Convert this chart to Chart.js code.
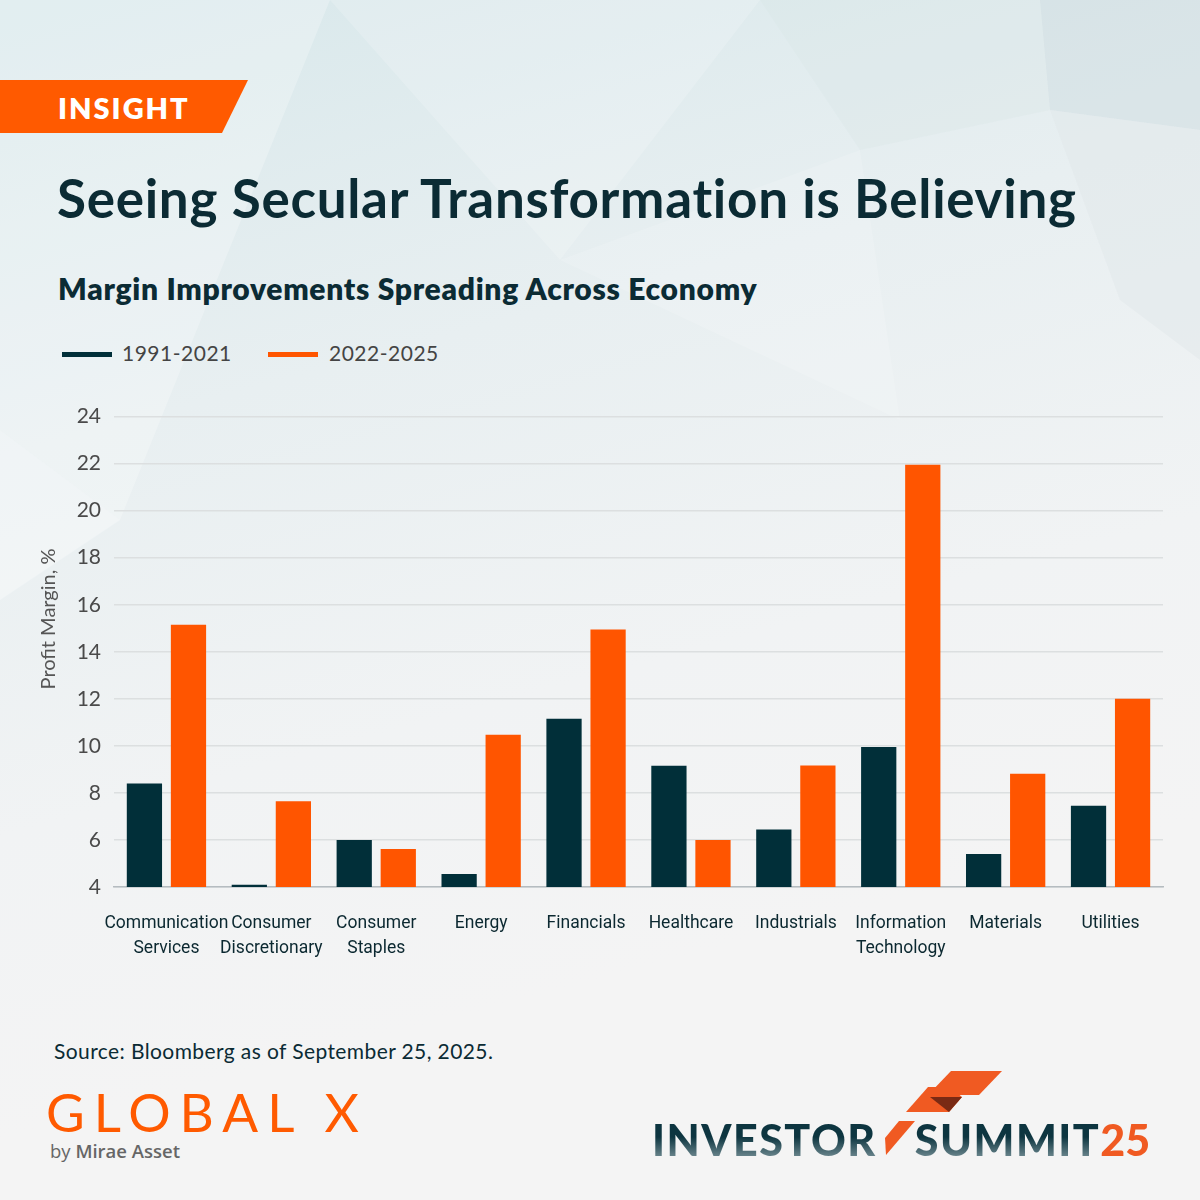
<!DOCTYPE html>
<html>
<head>
<meta charset="utf-8">
<script src="https://cdn.jsdelivr.net/npm/chart.js@4.4.1/dist/chart.umd.min.js"></script>
<style>
  body {
    margin: 0;
    width: 1200px;
    height: 1200px;
    position: relative;
    overflow: hidden;
    background: linear-gradient(165deg, #d8e8eb 0%, #e8eff1 30%, #f1f3f4 55%, #f4f4f4 75%, #f4f4f4 100%);
    font-family: "Lato", "Noto Sans", sans-serif;
  }
  #bg { position: absolute; left: 0; top: 0; }
  .banner {
    position: absolute; left: 0; top: 80px; width: 248px; height: 53px;
    background: #ff5a00;
    clip-path: polygon(0 0, 100% 0, calc(100% - 26px) 100%, 0 100%);
    color: #fff; font-weight: 800; font-size: 29px; letter-spacing: 2px;
    line-height: 55px; padding-left: 58px; box-sizing: border-box;
  }
  .title {
    position: absolute; left: 57px; top: 166px;
    font-size: 53px; font-weight: 700; color: #0b2b34; white-space: nowrap; letter-spacing: 0.7px;
  }
  .subtitle {
    position: absolute; left: 58px; top: 270px;
    font-size: 30px; font-weight: 800; color: #0b2b34; white-space: nowrap; letter-spacing: 0.7px;
  }
  .legend { position: absolute; top: 340px; left: 62px; font-size: 21px; color: #444; }
  .legend span.sw { position: absolute; width: 50px; height: 5px; top: 12px; }
  .legend span.tx { position: absolute; top: 0; white-space: nowrap; letter-spacing: 0.5px; }
  #wrap { position: absolute; left: 20px; top: 391px; width: 1160px; height: 580px; }
  .ytitle {
    position: absolute; left: 47px; top: 619px; transform: translate(-50%, -50%) rotate(-90deg);
    font-size: 20px; color: #555; white-space: nowrap;
  }
  .source {
    position: absolute; left: 54px; top: 1038px; font-size: 21px; color: #0b2b34; letter-spacing: 0.4px;
  }
  .gx {
    position: absolute; left: 46px; top: 1080px; font-size: 53px; font-weight: 400;
    color: #ff5a00; letter-spacing: 9px; white-space: nowrap;
  }
  .by { position: absolute; left: 50px; top: 1138px; font-size: 18.5px; color: #666; font-family: "Open Sans", sans-serif; }
  .by b { font-weight: 600; }
  .summit {
    position: absolute; left: 652px; top: 1114px; font-size: 43px; font-weight: 900;
    letter-spacing: 1.5px; white-space: nowrap; font-family: "Lato", sans-serif;
  }
  .summit .dk {
    background: linear-gradient(180deg, #0d3540 0%, #0d3540 45%, #8fa5ab 100%);
    -webkit-background-clip: text; background-clip: text; color: transparent;
  }
  .summit .or { color: #f05a22; letter-spacing: 0; }
  #logo { position: absolute; left: 0; top: 0; }
</style>
</head>
<body>
<svg id="bg" width="1200" height="1200">
  <polygon points="0,0 330,0 120,520 0,430" fill="#ffffff" opacity="0.25"/>
  <polygon points="330,0 760,0 560,260" fill="#ffffff" opacity="0.18"/>
  <polygon points="1040,0 1200,0 1200,130 1050,110" fill="#c9d8dc" opacity="0.4"/>
  <polygon points="760,0 1040,0 1050,110 860,150" fill="#d7e3e6" opacity="0.3"/>
  <polygon points="1050,110 1200,130 1200,360 1120,300" fill="#dfe7e9" opacity="0.45"/>
  <polygon points="0,430 120,520 0,600" fill="#ffffff" opacity="0.35"/>
  <polygon points="560,260 860,150 900,420" fill="#ffffff" opacity="0.15"/>
</svg>

<div class="banner">INSIGHT</div>
<div class="title">Seeing Secular Transformation is Believing</div>
<div class="subtitle">Margin Improvements Spreading Across Economy</div>

<div class="legend">
  <span class="sw" style="left:0; background:#012f39;"></span>
  <span class="tx" style="left:60px;">1991-2021</span>
  <span class="sw" style="left:206px; background:#ff5500;"></span>
  <span class="tx" style="left:267px;">2022-2025</span>
</div>

<div id="wrap"><canvas id="marginChart" width="1160" height="580"></canvas></div>
<div class="ytitle">Profit Margin, %</div>

<div class="source">Source: Bloomberg as of September 25, 2025.</div>
<div class="gx">GLOBAL X</div>
<div class="by">by <b>Mirae Asset</b></div>

<svg id="logo" width="1200" height="1200">
  <polygon points="951,1071 1002,1071 979,1095 928,1095" fill="#f05a22"/>
  <polygon points="928,1087 950,1087 962,1097 949,1112 906,1112" fill="#f05a22"/>
  <polygon points="930,1097 962,1097 949,1112" fill="#7a2a14"/>
  <polygon points="899,1121 915,1121 886,1155 885,1138" fill="#f05a22"/>
</svg>
<div class="summit"><span class="dk">INVESTOR</span><span style="display:inline-block;width:38px"></span><span class="dk">SUMMIT</span><span class="or">25</span></div>

<script>
const sectors = [
  ['Communication', 'Services'],
  ['Consumer', 'Discretionary'],
  ['Consumer', 'Staples'],
  'Energy',
  'Financials',
  'Healthcare',
  'Industrials',
  ['Information', 'Technology'],
  'Materials',
  'Utilities'
];
const margin1991to2021 = [8.4, 4.1, 6.0, 4.55, 11.15, 9.15, 6.45, 9.95, 5.4, 7.45];
const margin2022to2025 = [15.15, 7.65, 5.62, 10.47, 14.95, 6.0, 9.17, 21.95, 8.82, 12.0];
const yTicks = { min: 4, max: 24, step: 2 };

const ctx = document.getElementById('marginChart').getContext('2d');

const marginChart = new Chart(ctx, {
    type: 'bar',
    data: {
        labels: sectors,
        datasets: [{
            label: '1991-2021',
            data: margin1991to2021,
            backgroundColor: '#012f39',
        }, {
            label: '2022-2025',
            data: margin2022to2025,
            backgroundColor: '#ff5500',
        }]
    },
    options: {
        responsive: false,
        animation: false,
        categoryPercentage: 0.84,
        barPercentage: 0.8,
        layout: { padding: { top: 16, right: 17, left: 0, bottom: 0 } },
        plugins: {
            legend: { display: false },
            tooltip: { enabled: false }
        },
        scales: {
            y: {
                min: yTicks.min,
                max: yTicks.max,
                afterFit: (scale) => { scale.width = 94; },
                ticks: {
                    stepSize: yTicks.step,
                    padding: 13,
                    color: '#4a4a4a',
                    font: { family: 'Lato', size: 21 }
                },
                grid: { color: '#dcdfe0', lineWidth: 1.5, drawTicks: false },
                border: { display: false }
            },
            x: {
                afterFit: (scale) => { scale.height = 84; },
                grid: { display: false, drawTicks: false },
                border: { display: true, color: '#b5bcc0', width: 1.5 },
                ticks: {
                    padding: 24,
                    color: '#0b2830',
                    maxRotation: 0,
                    autoSkip: false,
                    font: { family: 'Roboto', size: 17.5, lineHeight: 1.45 }
                }
            }
        }
    }
});
</script>
</body>
</html>
